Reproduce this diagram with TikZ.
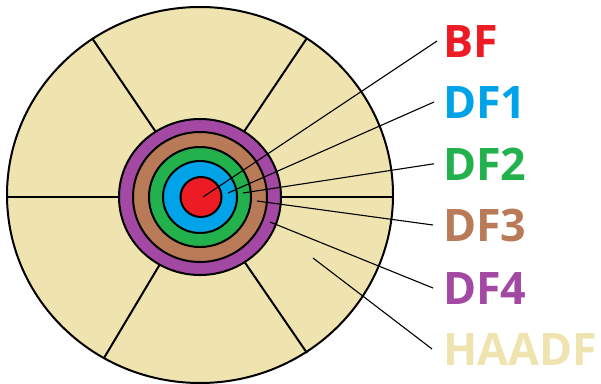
\documentclass[tikz,border=0pt]{standalone}
\usepackage{fontspec}
\newfontfamily\labfont{Open Sans}
\definecolor{beige}{HTML}{EFE4B0}
\definecolor{mspurple}{HTML}{A349A4}
\definecolor{msbrown}{HTML}{B97A57}
\definecolor{msgreen}{HTML}{22B14C}
\definecolor{msblue}{HTML}{00A2E8}
\definecolor{msred}{HTML}{ED1C24}
\tikzset{
  outline/.style={draw=black, line width=2pt},
  spoke/.style={draw=black, line width=2pt},
  leader/.style={draw=black, line width=1.1pt},
  lab/.style={anchor=base west, inner sep=0pt, font=\labfont\bfseries\fontsize{44.8}{50}\selectfont},
}
\begin{document}
\begin{tikzpicture}[x=1pt,y=-1pt]
\useasboundingbox (0,0) rectangle (601,383);
% outer disc
\fill[beige] (200,195) ellipse [x radius=193pt, y radius=188pt];
% spokes
\coordinate (c) at (200,197);
\draw[spoke] (7,197) -- (393,197);
\draw[spoke] (c) -- (92,38);
\draw[spoke] (c) -- (307,38);
\draw[spoke] (c) -- (104,358);
\draw[spoke] (c) -- (307,353);
\draw[outline] (200,195) ellipse [x radius=193pt, y radius=188pt];
% rings
\draw[outline, fill=mspurple] (200,197) ellipse [x radius=81pt, y radius=78pt];
\draw[outline, fill=msbrown] (200,197) ellipse [x radius=67pt, y radius=65pt];
\draw[outline, fill=msgreen] (200,197) ellipse [x radius=51pt, y radius=50pt];
\draw[outline, fill=msblue] (200,197) ellipse [x radius=37pt, y radius=36pt];
\draw[outline, fill=msred] (201,197) ellipse [x radius=20.5pt, y radius=20pt];
% labels
\node[lab, text=msred] (bf) at (443,57) {BF};
\node[lab, text=msblue] (df1) at (443,118) {DF1};
\node[lab, text=msgreen] (df2) at (443,180) {DF2};
\node[lab, text=msbrown] (df3) at (443,241) {DF3};
\node[lab, text=mspurple] (df4) at (443,304) {DF4};
\node[lab, text=beige] (haadf) at (443,365) {HAADF};
% leader start points
\coordinate (pbf) at (203,197);
\coordinate (pdf1) at (228,193);
\coordinate (pdf2) at (243,193);
\coordinate (pdf3) at (257,201);
\coordinate (pdf4) at (270,222);
\coordinate (phaadf) at (313,258);
\draw[leader] (pbf) -- ([xshift=-6pt]bf.west);
\draw[leader] (pdf1) -- ([xshift=-9pt]df1.west);
\draw[leader] (pdf2) -- ([xshift=-9pt]df2.west);
\draw[leader] (pdf3) -- ([xshift=-10pt]df3.west);
\draw[leader] (pdf4) -- ([xshift=-10pt]df4.west);
\draw[leader] (phaadf) -- ([xshift=-11pt]haadf.west);
\end{tikzpicture}
\end{document}
